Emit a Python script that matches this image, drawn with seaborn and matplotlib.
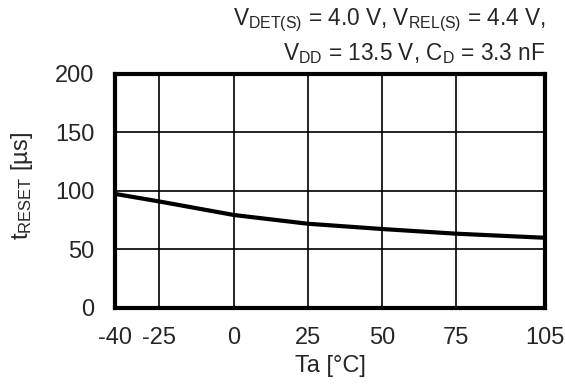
import numpy as np, pandas as pd, matplotlib.pyplot as plt
import seaborn as sns

# ==========================
# DATA
# ==========================
temp_c   = [-40, -25, 0, 25, 50, 75, 105]
t_reset  = [97.5, 91.0, 79.5, 72.0, 67.5, 63.5, 60.0]
x_ticks  = [-40, -25, 0, 25, 50, 75, 105]
y_ticks  = [0, 50, 100, 150, 200]

df = pd.DataFrame({"Ta": temp_c, "t": t_reset})

# ==========================
# STYLE
# ==========================
sns.set_theme(style="white")
plt.rcParams['font.family'] = ['Liberation Sans', 'DejaVu Sans']
plt.rcParams['mathtext.fontset'] = 'custom'
plt.rcParams['mathtext.rm'] = 'Liberation Sans'
plt.rcParams['mathtext.it'] = 'Liberation Sans'

fig = plt.figure(figsize=(5.65, 3.85), dpi=100)
ax = fig.add_axes([0.2035, 0.2, 0.761, 0.608])

sns.lineplot(data=df, x="Ta", y="t", ax=ax, color="black", linewidth=3)

ax.set_xlim(-40, 105)
ax.set_ylim(0, 200)
ax.set_xticks(x_ticks)
ax.set_yticks(y_ticks)
ax.set_xticklabels([str(v) for v in x_ticks], fontsize=17)
ax.set_yticklabels([str(v) for v in y_ticks], fontsize=17)
ax.tick_params(axis="x", length=0, pad=14)
ax.tick_params(axis="y", length=0, pad=15)
ax.grid(True, color="black", linewidth=1.2)
for s in ax.spines.values():
    s.set_visible(True); s.set_color("black"); s.set_linewidth(3)

ax.set_xlabel("Ta [°C]", fontsize=17)
ax.set_ylabel(r"t$_\mathregular{RESET}$ [µs]", fontsize=17)
ax.xaxis.label.set_va("center")
ax.yaxis.label.set_va("center")
ax.xaxis.set_label_coords(0.5, -0.248)
ax.yaxis.set_label_coords(-0.216, 0.521)

fig.text(0.966, 0.935, r"V$_\mathregular{DET(S)}$ = 4.0 V, V$_\mathregular{REL(S)}$ = 4.4 V,",
         ha="right", va="baseline", fontsize=16.3)
fig.text(0.966, 0.844, r"V$_\mathregular{DD}$ = 13.5 V, C$_\mathregular{D}$ = 3.3 nF",
         ha="right", va="baseline", fontsize=16.3)

plt.savefig("out.png", dpi=100)
plt.close()
